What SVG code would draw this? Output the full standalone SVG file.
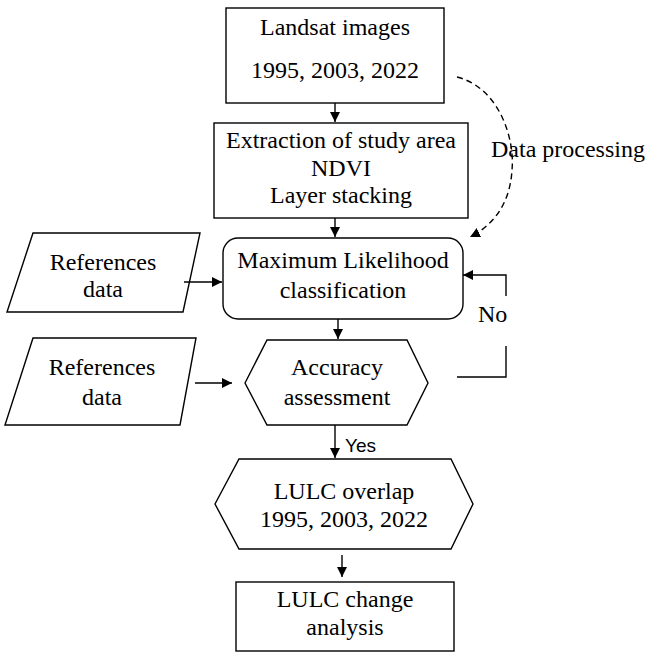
<svg xmlns="http://www.w3.org/2000/svg" width="648" height="653" viewBox="0 0 648 653">
<defs>
<style>
.box{fill:#fff;stroke:#000;stroke-width:1.4}
.t{font-family:"Liberation Serif","Times New Roman",serif;font-size:24px;fill:#000;text-anchor:middle}
.ts{font-family:"Liberation Sans",Arial,sans-serif;font-size:19px;fill:#000}
.c{fill:none;stroke:#000;stroke-width:1.4}
.d{fill:none;stroke:#000;stroke-width:1.4;stroke-dasharray:6 4}
</style>
<marker id="ah" viewBox="0 0 10 10" refX="10" refY="5" markerWidth="10" markerHeight="10" markerUnits="userSpaceOnUse" orient="auto">
<path d="M0,0 L10,5 L0,10 Z" fill="#000"/>
</marker>
</defs>
<rect width="648" height="653" fill="#fff"/>

<g id="landsat">
<rect class="box" x="226" y="8" width="218" height="95"/>
<text class="t" x="335" y="35">Landsat images</text>
<text class="t" x="335" y="78">1995, 2003, 2022</text>
</g>

<g id="extraction">
<rect class="box" x="214" y="123" width="254" height="95"/>
<text class="t" x="341" y="148">Extraction of study area</text>
<text class="t" x="341" y="176">NDVI</text>
<text class="t" x="341" y="203">Layer stacking</text>
</g>

<g id="ml">
<rect class="box" x="223" y="238" width="240" height="81" rx="15" ry="15"/>
<text class="t" x="343" y="268">Maximum Likelihood</text>
<text class="t" x="343" y="298">classification</text>
</g>

<g id="ref1">
<polygon class="box" points="33,233 200,233 183,312 7,312"/>
<text class="t" x="103" y="270">References</text>
<text class="t" x="103" y="297">data</text>
</g>

<g id="ref2">
<polygon class="box" points="33,338 196,338 180,425 5,425"/>
<text class="t" x="102" y="375">References</text>
<text class="t" x="102" y="405">data</text>
</g>

<g id="accuracy">
<polygon class="box" points="245,383 267,340 407,340 428,383 407,425 267,425"/>
<text class="t" x="337" y="375">Accuracy</text>
<text class="t" x="337" y="405">assessment</text>
</g>

<g id="overlap">
<polygon class="box" points="215,504 239,459 451,459 473,504 451,549 239,549"/>
<text class="t" x="344" y="499">LULC overlap</text>
<text class="t" x="344" y="527">1995, 2003, 2022</text>
</g>

<g id="change">
<rect class="box" x="236" y="582" width="218" height="69"/>
<text class="t" x="345" y="607">LULC change</text>
<text class="t" x="345" y="635">analysis</text>
</g>

<g id="connectors">
<line class="c" x1="335" y1="103" x2="335" y2="122" marker-end="url(#ah)"/>
<line class="c" x1="335" y1="218" x2="335" y2="237" marker-end="url(#ah)"/>
<path class="d" d="M457,77 C500,88 515,140 512,170 C510,205 492,226 470,237" marker-end="url(#ah)"/>
<text class="t" x="491" y="157" style="text-anchor:start">Data processing</text>
<line class="c" x1="184" y1="282" x2="222" y2="282" marker-end="url(#ah)"/>
<line class="c" x1="195" y1="383" x2="232" y2="383" marker-end="url(#ah)"/>
<line class="c" x1="338" y1="319" x2="338" y2="339" marker-end="url(#ah)"/>
<polyline class="c" points="506,296 506,275 463,275" marker-end="url(#ah)"/>
<polyline class="c" points="457,377 506,377 506,346"/>
<text class="t" x="478" y="322" style="text-anchor:start">No</text>
<line class="c" x1="335" y1="425" x2="335" y2="458" marker-end="url(#ah)"/>
<text class="ts" x="345" y="452">Yes</text>
<line class="c" x1="342" y1="555" x2="342" y2="577" marker-end="url(#ah)"/>
</g>
</svg>
